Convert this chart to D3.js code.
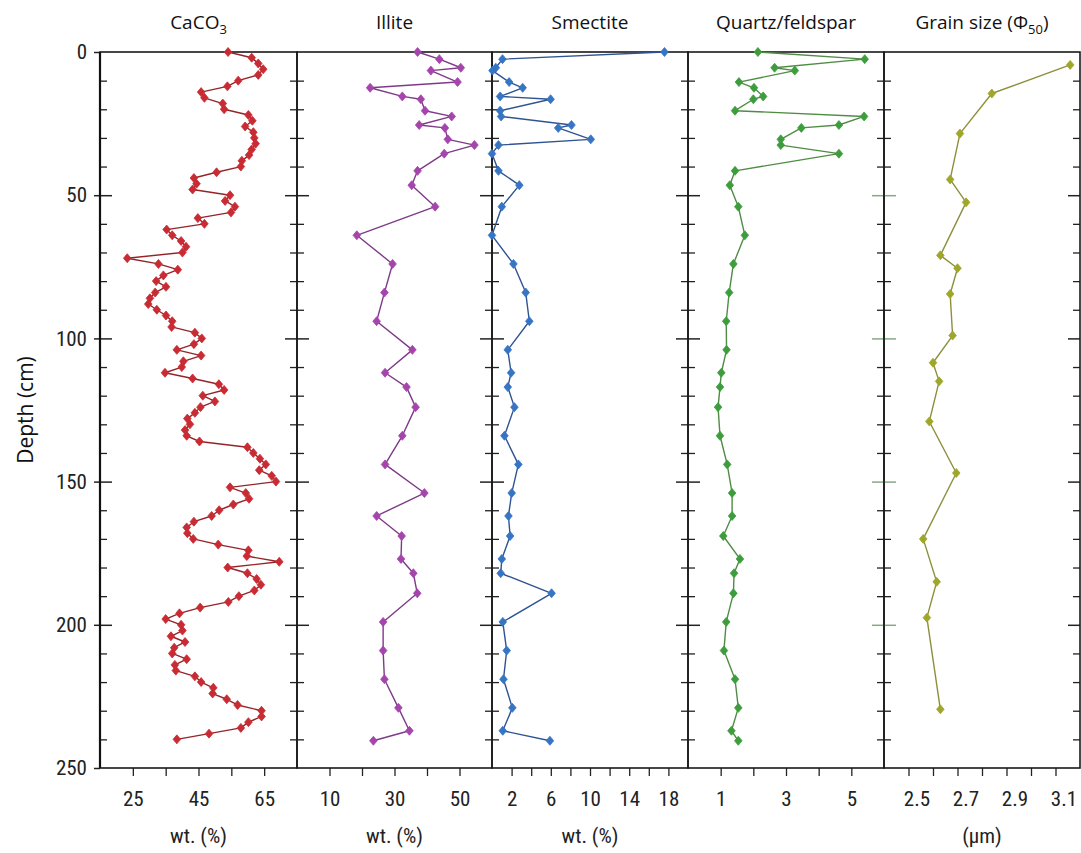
<!DOCTYPE html>
<html>
<head>
<meta charset="utf-8">
<script src="https://cdn.jsdelivr.net/npm/d3@7"></script>
<style>
  body { margin: 0; background: #fff; }
  svg { display: block; }
  .num { font-family: "Liberation Sans Narrow", "Arial Narrow", "Roboto Condensed", "Liberation Sans", sans-serif; font-size: 21px; fill: #222; }
  .ttl { font-family: "Open Sans", "Noto Sans", sans-serif; font-size: 19px; fill: #111; }
</style>
</head>
<body>
<svg id="chart" width="1081" height="853"></svg>
<script>
// ---- CaCO3 (wt. %), sampled every 2 cm ----
const caco3Depth = [
  0, 2, 4, 6, 8, 10, 12, 14, 16, 18,
  20, 22, 24, 26, 28, 30, 32, 34, 36, 38,
  40, 42, 44, 46, 48, 50, 52, 54, 56, 58,
  60, 62, 64, 66, 68, 70, 72, 74, 76, 78,
  80, 82, 84, 86, 88, 90, 92, 94, 96, 98,
  100, 102, 104, 106, 108, 110, 112, 114, 116, 118,
  120, 122, 124, 126, 128, 130, 132, 134, 136, 138,
  140, 142, 144, 146, 148, 150, 152, 154, 156, 158,
  160, 162, 164, 166, 168, 170, 172, 174, 176, 178,
  180, 182, 184, 186, 188, 190, 192, 194, 196, 198,
  200, 202, 204, 206, 208, 210, 212, 214, 216, 218,
  220, 222, 224, 226, 228, 230, 232, 234, 236, 238,
  240
];
const caco3 = [
  54.0, 61.2, 63.2, 64.7, 63.2, 57.1, 53.8, 45.8, 46.8, 52.4,
  52.8, 60.2, 61.4, 59.2, 61.7, 62.0, 62.4, 61.2, 60.4, 58.2,
  57.9, 50.5, 43.6, 44.4, 43.2, 54.6, 53.1, 56.1, 54.9, 44.8,
  46.8, 35.3, 37.0, 39.7, 41.2, 40.1, 23.3, 32.8, 38.7, 34.3,
  32.1, 35.1, 31.8, 30.2, 29.7, 32.3, 35.1, 37.0, 36.8, 43.9,
  46.0, 43.6, 38.4, 45.8, 40.4, 39.9, 34.8, 43.2, 51.2, 52.8,
  46.3, 50.0, 45.6, 43.9, 41.6, 42.4, 40.9, 41.4, 45.3, 59.9,
  61.7, 63.7, 65.5, 63.5, 67.3, 68.6, 54.6, 59.4, 60.4, 55.6,
  51.3, 49.0, 43.6, 41.4, 41.6, 43.4, 51.0, 60.2, 59.7, 69.6,
  53.9, 59.9, 62.7, 64.0, 62.0, 57.3, 54.1, 45.5, 39.2, 35.0,
  39.7, 40.1, 36.6, 40.9, 37.6, 37.0, 41.4, 37.8, 38.1, 43.9,
  45.8, 49.5, 49.3, 53.6, 56.9, 64.2, 64.2, 60.2, 57.9, 48.2,
  38.4
];

// ---- Clay / mineral samples (shared depths, cm) ----
const mineralDepth = [
  0, 2.5, 5.5, 6.5, 10.5, 12.5, 15.5, 16.5, 20.5, 22.5,
  25.5, 26.5, 30.5, 32.5, 35.5, 41.5, 46.5, 54, 64, 74,
  84, 94, 104, 112, 117, 124, 134, 144, 154, 162,
  169, 177, 182, 189, 199, 209, 219, 229, 237, 240.5
];
const illite = [
  37.1, 43.8, 50.4, 41.2, 49.4, 22.5, 32.4, 38.1, 39.4, 47.6,
  37.6, 45.5, 46.4, 54.6, 45.3, 37.1, 35.3, 42.5, 18.4, 29.4,
  26.9, 24.5, 35.5, 27.1, 33.7, 36.5, 32.4, 27.1, 39.2, 24.5,
  32.2, 32.0, 35.8, 37.0, 26.5, 26.5, 26.9, 31.2, 34.6, 23.5
];
const smectite = [
  17.6, 1.07, 0.39, 0.05, 1.75, 3.13, 0.83, 5.98, 0.83, 0.93,
  8.11, 6.76, 10.08, 0.66, 0.0, 0.66, 2.79, 1.0, 0.0, 2.19,
  3.44, 3.81, 1.61, 1.95, 1.61, 2.29, 1.27, 2.69, 2.01, 1.68,
  1.85, 1.0, 0.89, 6.08, 1.1, 1.5, 1.17, 2.08, 1.1, 5.91
];
const quartzFeldspar = [
  2.14, 5.41, 2.65, 3.27, 1.56, 2.02, 2.30, 2.0, 1.44, 5.39,
  4.62, 3.47, 2.84, 2.84, 4.62, 1.44, 1.28, 1.54, 1.74, 1.39,
  1.26, 1.17, 1.18, 1.02, 0.98, 0.92, 0.98, 1.20, 1.35, 1.35,
  1.08, 1.59, 1.41, 1.39, 1.17, 1.10, 1.44, 1.54, 1.33, 1.54
];

// ---- Median grain size (µm) ----
const grainDepth = [4.5, 14.5, 28.5, 44.5, 52.5, 71, 75.5, 84.5, 99, 108.5, 115, 129, 147, 170, 185, 197.5, 229.5];
const grainSize  = [3.16, 2.84, 2.71, 2.67, 2.735, 2.63, 2.70, 2.67, 2.68, 2.60, 2.625, 2.585, 2.695, 2.56, 2.615, 2.575, 2.63];

// ---- Axis ticks ----
const depthMajorTicks = [0, 50, 100, 150, 200, 250];
const depthMinorTicks = [10, 20, 30, 40, 60, 70, 80, 90, 110, 120, 130, 140, 160, 170, 180, 190, 210, 220, 230, 240];
const caco3Ticks = [25, 35, 45, 55, 65];
const caco3TickLabels = [25, 45, 65];
const illiteTicks = [10, 20, 30, 40, 50];
const illiteTickLabels = [10, 30, 50];
const smectiteTicks = [2, 4, 6, 8, 10, 12, 14, 16, 18];
const smectiteTickLabels = [2, 6, 10, 14, 18];
const quartzTicks = [1, 2, 3, 4, 5];
const quartzTickLabels = [1, 3, 5];
const grainTicks = [2.5, 2.6, 2.7, 2.8, 2.9, 3.0, 3.1];
const grainTickLabels = [2.5, 2.7, 2.9, 3.1];

// ---- Layout ----
const svg = d3.select("#chart");
const plotTop = 52, plotBottom = 768;
const edges = [100, 297, 492, 688, 884, 1080];
const y = d3.scaleLinear().domain([0, 250]).range([plotTop, plotBottom]);

const panels = [
  { title: "CaCO", sub: "3", tail: "", depth: caco3Depth, values: caco3, domain: [15, 75],
    ticks: caco3Ticks, labels: caco3TickLabels, fmt: d3.format("d"), unit: "wt. (%)", labelShift: 0,
    line: "#952428", mark: "#c92b33" },
  { title: "Illite", sub: "", tail: "", depth: mineralDepth, values: illite, domain: [0, 60],
    ticks: illiteTicks, labels: illiteTickLabels, fmt: d3.format("d"), unit: "wt. (%)", labelShift: 0,
    line: "#7e3a88", mark: "#a544ac" },
  { title: "Smectite", sub: "", tail: "", depth: mineralDepth, values: smectite, domain: [0, 20],
    ticks: smectiteTicks, labels: smectiteTickLabels, fmt: d3.format("d"), unit: "wt. (%)", labelShift: 0,
    line: "#2f5393", mark: "#3674c4" },
  { title: "Quartz/feldspar", sub: "", tail: "", depth: mineralDepth, values: quartzFeldspar, domain: [0, 6],
    ticks: quartzTicks, labels: quartzTickLabels, fmt: d3.format("d"), unit: "", labelShift: 0,
    line: "#4f8c44", mark: "#3d9d3d" },
  { title: "Grain size (Φ", sub: "50", tail: ")", depth: grainDepth, values: grainSize, domain: [2.4, 3.2],
    ticks: grainTicks, labels: grainTickLabels, fmt: d3.format(".1f"), unit: "(µm)", labelShift: 8,
    line: "#8e8f3c", mark: "#a0a628" }
];

const diamond = "M0,-4.5L3.8,0L0,4.5L-3.8,0Z";

panels.forEach((p, i) => {
  const x0 = edges[i], x1 = edges[i + 1];
  const x = d3.scaleLinear().domain(p.domain).range([x0, x1]);
  const g = svg.append("g");

  // inward depth ticks on both sides of the panel
  const sides = [
    { gen: d3.axisRight, at: x0, majorColor: i === 4 ? "#86a886" : "#222" },
    { gen: d3.axisLeft, at: x1, majorColor: i === 3 ? "#86a886" : "#222" }
  ];
  sides.forEach(s => {
    g.append("g").attr("transform", `translate(${s.at},0)`)
      .call(s.gen(y).tickValues(depthMinorTicks).tickSize(7).tickFormat(""))
      .call(a => a.select(".domain").remove())
      .call(a => a.selectAll("line").attr("stroke", "#222").attr("stroke-width", 1.3));
    g.append("g").attr("transform", `translate(${s.at},0)`)
      .call(s.gen(y).tickValues(depthMajorTicks.slice(1, -1)).tickSize(12).tickFormat(""))
      .call(a => a.select(".domain").remove())
      .call(a => a.selectAll("line").attr("stroke", s.majorColor).attr("stroke-width", 1.5));
  });

  // bottom value axis
  const ax = g.append("g").attr("transform", `translate(0,${plotBottom})`)
    .call(d3.axisBottom(x).tickValues(p.ticks).tickSize(8).tickPadding(15)
      .tickFormat(v => p.labels.some(l => Math.abs(l - v) < 1e-9) ? p.fmt(v) : ""));
  ax.select(".domain").remove();
  ax.selectAll("line").attr("stroke", "#222").attr("stroke-width", 1.3);
  ax.selectAll("text").attr("class", "num").attr("font-family", null).attr("font-size", null)
    .attr("dx", p.labelShift);

  // panel frame
  g.append("rect").attr("x", x0).attr("y", plotTop).attr("width", x1 - x0).attr("height", plotBottom - plotTop)
    .attr("fill", "none").attr("stroke", "#1a1a1a").attr("stroke-width", 1.6);

  // series line and diamond markers
  const pts = p.depth.map((d, k) => [d, p.values[k]]);
  g.append("path").datum(pts)
    .attr("fill", "none").attr("stroke", p.line).attr("stroke-width", 1.4).attr("stroke-linejoin", "round")
    .attr("d", d3.line().x(d => x(d[1])).y(d => y(d[0])));
  g.selectAll("path.mk").data(pts).join("path").attr("class", "mk")
    .attr("d", diamond)
    .attr("transform", d => `translate(${x(d[1])},${y(d[0])})`)
    .attr("fill", p.mark).attr("stroke", p.mark).attr("stroke-width", 0.8);

  // panel title
  const t = g.append("text").attr("class", "ttl").attr("x", (x0 + x1) / 2).attr("y", 29).attr("text-anchor", "middle");
  t.append("tspan").text(p.title);
  if (p.sub) t.append("tspan").attr("font-size", "13px").attr("dy", 5).text(p.sub);
  if (p.tail) t.append("tspan").attr("dy", -5).text(p.tail);

  // unit label
  if (p.unit) {
    g.append("text").attr("class", "num").attr("x", (x0 + x1) / 2).attr("y", 843)
      .attr("text-anchor", "middle").text(p.unit);
  }
});

// depth axis on the left
const yAxis = svg.append("g").attr("transform", `translate(${edges[0]},0)`)
  .call(d3.axisLeft(y).tickValues(depthMajorTicks).tickSize(6).tickPadding(7).tickFormat(d3.format("d")));
yAxis.select(".domain").remove();
yAxis.selectAll("line").attr("stroke", "#222").attr("stroke-width", 1.5);
yAxis.selectAll("text").attr("class", "num").attr("font-family", null).attr("font-size", null);

svg.append("line").attr("x1", edges[0]).attr("x2", edges[0]).attr("y1", plotTop).attr("y2", plotBottom)
  .attr("stroke", "#111").attr("stroke-width", 2.2);

svg.append("text").attr("class", "ttl")
  .attr("transform", `translate(33,${(plotTop + plotBottom) / 2}) rotate(-90)`)
  .attr("text-anchor", "middle").style("font-size", "21px").text("Depth (cm)");
</script>
</body>
</html>
